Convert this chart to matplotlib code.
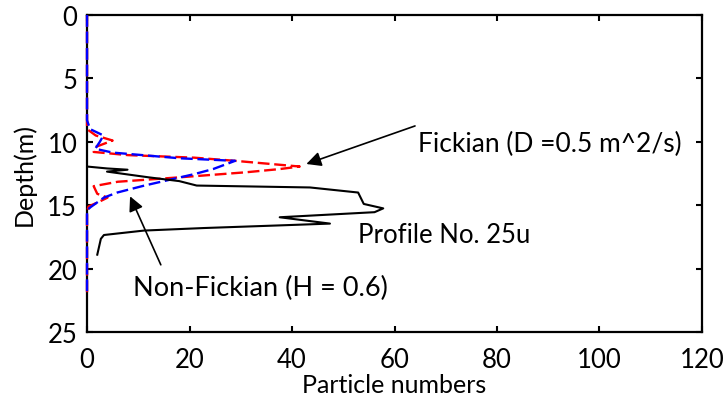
import matplotlib
matplotlib.use("Agg")
import matplotlib.pyplot as plt

plt.rcParams["font.family"] = ["Lato", "DejaVu Sans"]

# Measured profile (Profile No. 25u): particle numbers vs depth (m)
obs_count = [0, 3.9, 7.9, 3.9, 12, 18, 21.4, 43.5, 52.9, 54.0, 57.8, 56.1,
             37.6, 47.4, 37, 22.8, 11.1, 3.3, 2.7, 2.0]
obs_depth = [11.95, 12.1, 12.2, 12.35, 12.8, 13.1, 13.45, 13.6, 14.0, 14.9, 15.25, 15.55,
             15.95, 16.45, 16.6, 16.8, 17.0, 17.35, 17.65, 18.9]

# Fickian model (D = 0.5 m^2/s)
fick_count = [0, 0, 1.7, 5.0, 1.7, 1.3, 8, 20.9, 28.9, 41.5, 37.6, 31.1, 18.1,
              6, 1.3, 2.0, 4, 2.5, 0.3, 0, 0]
fick_depth = [0, 9.0, 9.5, 9.9, 10.4, 10.8, 11.05, 11.25, 11.5, 11.95, 12.15, 12.4, 12.8,
              13.15, 13.5, 14.1, 14.4, 14.7, 15.1, 15.5, 22]

# Non-Fickian model (H = 0.6)
nonfick_count = [0, 0, 0.6, 3.2, 2.5, 1.6, 5, 18.1, 28.9, 24.6, 20.9, 11.2, 5.9,
                 3.3, 0.7, 0, 0]
nonfick_depth = [0, 8.3, 9.0, 9.5, 10.0, 10.55, 10.85, 11.3, 11.5, 12.15, 12.55, 13.45, 14.0,
                 14.4, 15.15, 15.4, 22]

x_ticks = [0, 20, 40, 60, 80, 100, 120]
y_ticks = [0, 5, 10, 15, 20, 25]

fig = plt.figure(figsize=(7.24, 4.02), dpi=100)
ax = fig.add_axes([0.1202, 0.1716, 0.8494, 0.7886])

ax.plot(fick_count, fick_depth, color="red", lw=1.7, dashes=(5, 2), zorder=3, clip_on=False)
ax.plot(nonfick_count, nonfick_depth, color="blue", lw=1.7, dashes=(5, 2), zorder=3, clip_on=False)
ax.plot(obs_count, obs_depth, color="black", lw=1.5, zorder=3)

ax.set_xlim(0, 120)
ax.set_ylim(25, 0)
ax.set_xticks(x_ticks)
ax.set_yticks(y_ticks)
ax.tick_params(direction="in", top=True, right=True, length=4, width=1.5,
               labelsize=18.5)
ax.tick_params(axis="x", pad=10.5)
ax.tick_params(axis="y", pad=7)
for sp in ax.spines.values():
    sp.set_linewidth(1.6)
ax.set_xlabel("Particle numbers", fontsize=18, labelpad=1)
ax.set_ylabel("Depth(m)", fontsize=18, labelpad=8)

arrow = dict(arrowstyle="-|>", color="black", lw=1.2, mutation_scale=22,
             shrinkA=0, shrinkB=0)
ax.annotate("", xy=(42.8, 11.75), xytext=(64.0, 8.75), arrowprops=arrow)
ax.text(64.6, 10.1, "Fickian (D =0.5 m^2/s)", fontsize=19, va="center", ha="left")

ax.annotate("", xy=(8.4, 14.3), xytext=(14.4, 19.7), arrowprops=arrow)
ax.text(9.0, 21.5, "Non-Fickian (H = 0.6)", fontsize=19.5, va="center", ha="left")

ax.text(52.9, 17.3, "Profile No. 25u", fontsize=18.5, va="center", ha="left")

fig.savefig("out.png", dpi=100)
